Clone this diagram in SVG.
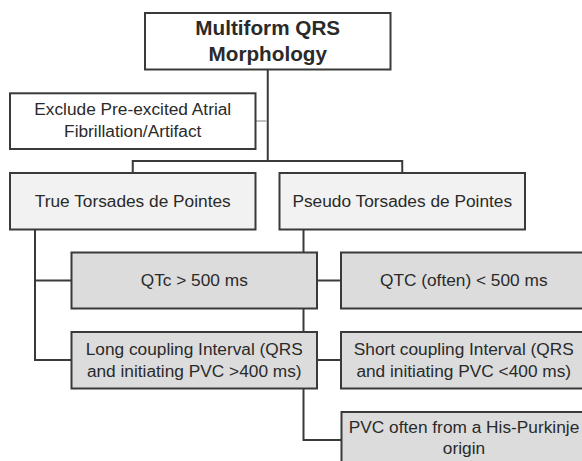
<svg xmlns="http://www.w3.org/2000/svg" width="582" height="461" viewBox="0 0 582 461">
<style>
.box{stroke:#3a3a3a;stroke-width:2}
.w{fill:#ffffff}
.l{fill:#f2f2f2}
.g{fill:#dcdcdc}
.t{font-family:"Liberation Sans",Arial,sans-serif;font-size:17.3px;fill:#2a2a2a;text-anchor:middle}
.b{font-weight:bold;font-size:20.7px}
.c{fill:none;stroke:#3a3a3a;stroke-width:2}
.cl{fill:none;stroke:#c0c0c0;stroke-width:2}
</style>
<rect width="582" height="461" fill="#ffffff"/>
<g id="connectors">
<path class="c" d="M267.75 69.5V161M132.75 173V161H402.25V173"/>
<path class="cl" d="M255.5 121H267"/>
<path class="c" d="M35 229.5V360H71.5M35 280.5H71.5"/>
<path class="c" d="M303.5 229.5V252.5M303.5 308.5V332M303.5 388.5V440H341"/>
<path class="c" d="M317 280.5H341M317 360H341"/>
</g>
<g id="title">
<rect class="box w" x="145" y="13" width="245.5" height="56.5"/>
<text class="t b" x="267.75" y="35">Multiform QRS</text>
<text class="t b" x="267.75" y="61">Morphology</text>
</g>
<g id="exclude">
<rect class="box w" x="10" y="93.3" width="245.5" height="55.7"/>
<text class="t" x="132.75" y="115">Exclude Pre-excited Atrial</text>
<text class="t" x="132.75" y="136.7">Fibrillation/Artifact</text>
</g>
<g id="true-tdp">
<rect class="box l" x="10" y="173" width="245.5" height="56.5"/>
<text class="t" x="132.75" y="206.5">True Torsades de Pointes</text>
</g>
<g id="pseudo-tdp">
<rect class="box l" x="279.5" y="173" width="245.5" height="56.5"/>
<text class="t" x="402.25" y="206.5">Pseudo Torsades de Pointes</text>
</g>
<g id="qtc-long">
<rect class="box g" x="71.5" y="252.5" width="245.5" height="56"/>
<text class="t" x="194.25" y="286">QTc &gt; 500 ms</text>
</g>
<g id="qtc-short">
<rect class="box g" x="341" y="252.5" width="245.5" height="56"/>
<text class="t" x="463.75" y="286">QTC (often) &lt; 500 ms</text>
</g>
<g id="long-coupling">
<rect class="box g" x="71.5" y="332" width="245.5" height="56.5"/>
<text class="t" x="194.25" y="355">Long coupling Interval (QRS</text>
<text class="t" x="194.25" y="376.5">and initiating PVC &gt;400 ms)</text>
</g>
<g id="short-coupling">
<rect class="box g" x="341" y="332" width="245.5" height="56.5"/>
<text class="t" x="463.75" y="355">Short coupling Interval (QRS</text>
<text class="t" x="463.75" y="376.5">and initiating PVC &lt;400 ms)</text>
</g>
<g id="pvc-origin">
<rect class="box g" x="341.5" y="412" width="245.5" height="56.5"/>
<text class="t" x="464" y="432.5">PVC often from a His-Purkinje</text>
<text class="t" x="464" y="454">origin</text>
</g>
</svg>
